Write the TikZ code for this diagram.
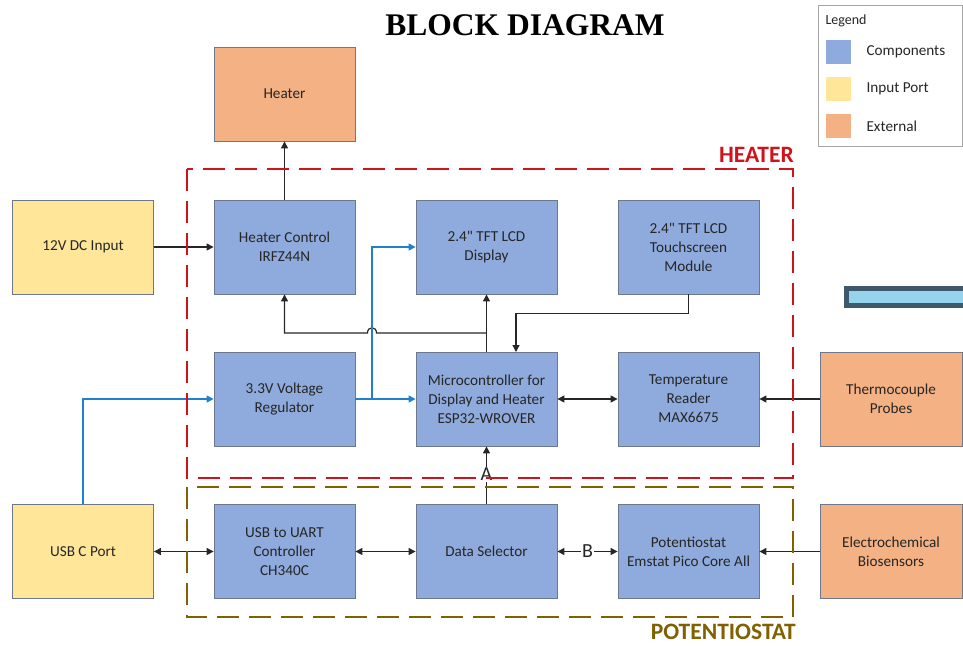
\documentclass[tikz,border=0pt]{standalone}
\usepackage{fontspec}
\setmainfont{Carlito}[Ligatures=TeXOff]
\newfontfamily\titlefont{Liberation Serif}
\usetikzlibrary{arrows.meta}
\definecolor{compblue}{RGB}{143,170,220}
\definecolor{inyellow}{RGB}{255,230,153}
\definecolor{extorange}{RGB}{244,177,131}
\definecolor{boxborder}{RGB}{110,120,140}
\definecolor{heatred}{RGB}{208,18,28}
\definecolor{potolive}{RGB}{128,96,0}
\definecolor{linkblue}{RGB}{33,128,205}
\definecolor{txt}{RGB}{38,38,38}
\definecolor{barfill}{RGB}{150,212,238}
\definecolor{barborder}{RGB}{62,90,106}
\tikzset{
  blk/.style={draw=boxborder, line width=0.8pt, minimum width=141pt, minimum height=94pt,
    align=center, text=txt, font=\fontsize{15.2}{19}\selectfont, inner sep=2pt},
  comp/.style={blk, fill=compblue},
  inport/.style={blk, fill=inyellow},
  ext/.style={blk, fill=extorange},
  arr/.style={draw=black!85, line width=1.2pt, -{Triangle[length=7pt,width=7pt]}},
  darr/.style={draw=black!85, line width=1.2pt, {Triangle[length=7pt,width=7pt]}-{Triangle[length=7pt,width=7pt]}},
  barr/.style={draw=linkblue, line width=1.2pt, -{Triangle[length=7pt,width=7pt]}},
  lbl/.style={fill=white, inner sep=1pt, font=\fontsize{20}{21}\selectfont, text=txt},
}
\begin{document}
\begin{tikzpicture}[x=1pt,y=-1pt]
\useasboundingbox (0,0) rectangle (963,646);
% title
\node[font=\titlefont\bfseries\fontsize{31.5}{34}\selectfont, anchor=center] (title) at (525,25) {BLOCK DIAGRAM};
% legend
\draw[draw=black!35, line width=0.8pt, fill=white] (818,5) rectangle (962,146);
\node[anchor=west, font=\fontsize{14}{15}\selectfont, text=txt] (legt) at (822,21) {Legend};
\node[draw=none, fill=compblue, minimum width=25pt, minimum height=24pt, inner sep=0pt] (lg1) at (838.5,52) {};
\node[draw=none, fill=inyellow, minimum width=25pt, minimum height=24pt, inner sep=0pt] (lg2) at (838.5,89) {};
\node[draw=none, fill=extorange, minimum width=25pt, minimum height=24pt, inner sep=0pt] (lg3) at (838.5,126) {};
\node[anchor=west, font=\fontsize{15.2}{17}\selectfont, text=txt] (lgt1) at (863,52) {Components};
\node[anchor=west, font=\fontsize{15.2}{17}\selectfont, text=txt] (lgt2) at (863,89) {Input Port};
\node[anchor=west, font=\fontsize{15.2}{17}\selectfont, text=txt] (lgt3) at (863,126) {External};
% light blue bar
\draw[line width=5pt, draw=barborder, fill=barfill] (846,288) rectangle (970,305);
% blocks
\node[ext] (heater) at (284.5,94) {Heater};
\node[comp] (hc) at (284.5,247) {Heater Control\\IRFZ44N};
\node[comp] (lcd) at (486.5,247) {2.4" TFT LCD\\Display};
\node[comp] (touch) at (688.5,247) {2.4" TFT LCD\\Touchscreen\\Module};
\node[comp] (reg) at (284.5,399) {3.3V Voltage\\Regulator};
\node[comp] (mcu) at (486.5,399) {Microcontroller for\\Display and Heater\\ESP32-WROVER};
\node[comp] (temp) at (688.5,399) {Temperature\\Reader\\MAX6675};
\node[inport] (dc) at (83,247) {12V DC Input};
\node[ext, minimum width=142pt] (thermo) at (891,399) {Thermocouple\\Probes};
\node[inport] (usbc) at (83,551.5) {USB C Port};
\node[comp] (uart) at (284.5,551.5) {USB to UART\\Controller\\CH340C};
\node[comp] (ds) at (486.5,551.5) {Data Selector};
\node[comp] (pot) at (688.5,551.5) {Potentiostat\\Emstat Pico Core All};
\node[ext, minimum width=142pt] (bio) at (891,551.5) {Electrochemical\\Biosensors};
% coordinates
\coordinate (j1) at (486.5,333);
\coordinate (hopr) at (376.5,333);
\coordinate (hopl) at (367.5,333);
\coordinate (j2) at (284.5,333);
\coordinate (br) at (372,399);
\coordinate (tin) at (516,352);
% connectors
\draw[arr] (hc.north) -- (heater.south);
\draw[arr] (dc.east) -- (hc.west);
\draw[arr] (mcu.north) -- (lcd.south);
\draw[arr] (j1) -- (hopr) .. controls (376.5,326) and (367.5,326) .. (hopl) -- (j2) -- (hc.south);
\draw[arr] (touch.south) -- ++(0,19) -| (tin);
\draw[barr] (reg.east) -- (mcu.west);
\draw[barr] (br) |- (lcd.west);
\draw[barr] (usbc.north) |- (reg.west);
\draw[darr] (mcu.east) -- (temp.west);
\draw[arr] (thermo.west) -- (temp.east);
\draw[darr] (usbc.east) -- (uart.west);
\draw[darr] (uart.east) -- (ds.west);
\draw[darr] (ds.east) -- node[lbl] (lb) {B} (pot.west);
\draw[arr] (bio.west) -- (pot.east);
\draw[arr] (ds.north) -- node[lbl, pos=0.52] (la) {A} (mcu.south);
% groups
\draw[draw=heatred, line width=2.6pt, dash pattern=on 22pt off 10pt] (187,169) rectangle (793,478);
\draw[draw=potolive, line width=2.6pt, dash pattern=on 22pt off 10pt] (187,487) rectangle (793,617);
\node[anchor=south east, font=\bfseries\fontsize{23.5}{25}\selectfont, text=heatred, inner sep=0pt] (hl) at (794,163) {HEATER};
\node[anchor=north east, font=\bfseries\fontsize{23.5}{25}\selectfont, text=potolive, inner sep=0pt] (pl) at (796,624) {POTENTIOSTAT};
\end{tikzpicture}
\end{document}
